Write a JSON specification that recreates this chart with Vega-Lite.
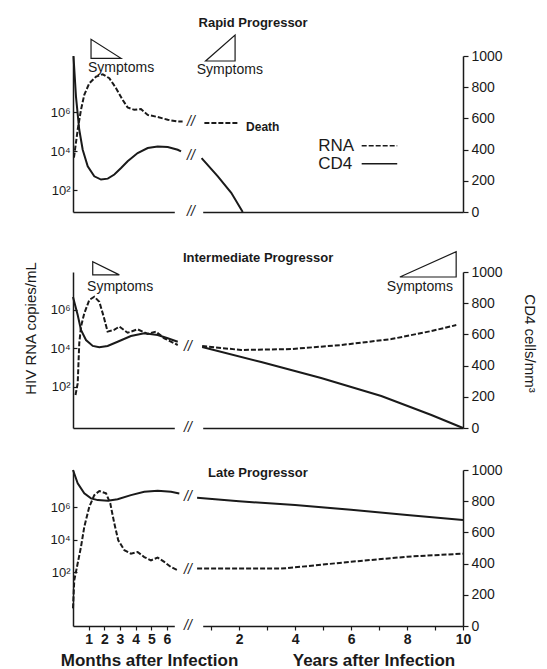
{
 "$schema": "https://vega.github.io/schema/vega-lite/v6.json",
 "padding": {"left": 22, "top": 17, "right": 5, "bottom": 2},
 "background": "white",
 "data": {"values": [{}]},
 "config": {
  "view": {"stroke": null},
  "font": "Liberation Sans",
  "axis": {"grid": false, "domainColor": "#1a1a1a", "domainWidth": 1.5, "tickColor": "#1a1a1a", "tickWidth": 1.2, "labelColor": "#1a1a1a", "titleColor": "#1a1a1a", "labelFont": "Liberation Sans", "titleFont": "Liberation Sans", "labelFlush": false, "labelOverlap": false, "titleFontWeight": "normal"},
  "text": {"font": "Liberation Sans", "color": "#1a1a1a"},
  "line": {"color": "#1a1a1a", "strokeWidth": 2}
 },
 "datasets": {
  "p1_rna_m": [{"month":0.06,"log10_rna":3.68},{"month":0.30,"log10_rna":5.11},{"month":0.51,"log10_rna":6.13},{"month":0.72,"log10_rna":6.90},{"month":1.04,"log10_rna":7.49},{"month":1.47,"log10_rna":7.83},{"month":1.90,"log10_rna":7.95},{"month":2.32,"log10_rna":7.75},{"month":2.75,"log10_rna":7.24},{"month":3.17,"log10_rna":6.64},{"month":3.49,"log10_rna":6.25},{"month":3.91,"log10_rna":6.13},{"month":4.34,"log10_rna":6.17},{"month":4.77,"log10_rna":5.87},{"month":5.41,"log10_rna":5.76},{"month":6.05,"log10_rna":5.62},{"month":6.69,"log10_rna":5.53},{"month":7.0,"log10_rna":5.53}],
  "p1_rna_y": [{"year":0.76,"log10_rna":5.45},{"year":1.98,"log10_rna":5.45}],
  "p1_cd4_m": [{"month":0.03,"cd4":1000},{"month":0.19,"cd4":740},{"month":0.40,"cd4":527},{"month":0.62,"cd4":399},{"month":0.94,"cd4":293},{"month":1.36,"cd4":229},{"month":1.79,"cd4":208},{"month":2.22,"cd4":214},{"month":2.64,"cd4":240},{"month":3.07,"cd4":282},{"month":3.49,"cd4":325},{"month":4.13,"cd4":378},{"month":4.77,"cd4":410},{"month":5.41,"cd4":420},{"month":6.05,"cd4":417},{"month":6.69,"cd4":399},{"month":6.90,"cd4":388}],
  "p1_cd4_y": [{"year":0.66,"cd4":345},{"year":1.24,"cd4":229},{"year":1.72,"cd4":123},{"year":2.13,"cd4":0}],
  "p2_rna_m": [{"month":0.16,"log10_rna":1.56},{"month":0.30,"log10_rna":2.17},{"month":0.40,"log10_rna":4.26},{"month":0.51,"log10_rna":5.13},{"month":0.72,"log10_rna":5.82},{"month":1.04,"log10_rna":6.52},{"month":1.36,"log10_rna":6.69},{"month":1.68,"log10_rna":6.43},{"month":1.96,"log10_rna":5.65},{"month":2.21,"log10_rna":4.87},{"month":2.60,"log10_rna":4.95},{"month":2.96,"log10_rna":5.13},{"month":3.49,"log10_rna":4.81},{"month":4.13,"log10_rna":4.99},{"month":4.77,"log10_rna":4.75},{"month":5.30,"log10_rna":4.87},{"month":5.83,"log10_rna":4.52},{"month":6.69,"log10_rna":4.17}],
  "p2_rna_y": [{"year":0.68,"log10_rna":4.12},{"year":2.07,"log10_rna":3.91},{"year":3.86,"log10_rna":3.96},{"year":5.65,"log10_rna":4.17},{"year":7.44,"log10_rna":4.48},{"year":8.87,"log10_rna":4.90},{"year":9.76,"log10_rna":5.21}],
  "p2_cd4_m": [{"month":0.0,"cd4":840},{"month":0.30,"cd4":724},{"month":0.51,"cd4":628},{"month":0.83,"cd4":564},{"month":1.26,"cd4":526},{"month":1.68,"cd4":517},{"month":2.21,"cd4":526},{"month":2.85,"cd4":553},{"month":3.70,"cd4":590},{"month":4.55,"cd4":607},{"month":5.41,"cd4":596},{"month":6.05,"cd4":575},{"month":6.69,"cd4":553}],
  "p2_cd4_y": [{"year":0.68,"cd4":519},{"year":2.79,"cd4":423},{"year":4.93,"cd4":321},{"year":7.08,"cd4":205},{"year":8.87,"cd4":83},{"year":10,"cd4":0}],
  "p3_rna_m": [{"month":0.0,"log10_rna":-0.21},{"month":0.08,"log10_rna":1.51},{"month":0.51,"log10_rna":3.56},{"month":0.72,"log10_rna":4.79},{"month":1.04,"log10_rna":6.02},{"month":1.36,"log10_rna":6.74},{"month":1.68,"log10_rna":6.99},{"month":2.11,"log10_rna":6.85},{"month":2.38,"log10_rna":6.23},{"month":2.64,"log10_rna":5.00},{"month":2.89,"log10_rna":3.97},{"month":3.28,"log10_rna":3.36},{"month":3.70,"log10_rna":3.15},{"month":4.13,"log10_rna":3.25},{"month":4.55,"log10_rna":2.94},{"month":4.98,"log10_rna":2.74},{"month":5.41,"log10_rna":2.91},{"month":5.83,"log10_rna":2.64},{"month":6.26,"log10_rna":2.33},{"month":6.69,"log10_rna":2.13}],
  "p3_rna_y": [{"year":0.5,"log10_rna":2.23},{"year":3.5,"log10_rna":2.23},{"year":4.0,"log10_rna":2.31},{"year":6.0,"log10_rna":2.65},{"year":8.0,"log10_rna":2.96},{"year":10.0,"log10_rna":3.15}],
  "p3_cd4_m": [{"month":0.0,"cd4":1000},{"month":0.30,"cd4":914},{"month":0.72,"cd4":850},{"month":1.15,"cd4":818},{"month":1.58,"cd4":807},{"month":2.22,"cd4":803},{"month":2.85,"cd4":812},{"month":3.70,"cd4":839},{"month":4.55,"cd4":860},{"month":5.41,"cd4":867},{"month":6.26,"cd4":860},{"month":6.79,"cd4":850}],
  "p3_cd4_y": [{"year":0.5,"cd4":822},{"year":2,"cd4":800},{"year":4,"cd4":775},{"year":6,"cd4":745},{"year":8,"cd4":712},{"year":10,"cd4":680}],
  "breaks": [{"panel":"rapid","month":7.53,"cd4":580},{"panel":"rapid","month":7.53,"cd4":357},{"panel":"rapid","month":7.53,"cd4":0},{"panel":"intermediate","month":7.34,"cd4":521},{"panel":"intermediate","month":7.34,"cd4":0},{"panel":"late","month":7.34,"cd4":828},{"panel":"late","month":7.34,"cd4":357},{"panel":"late","month":7.34,"cd4":0}]
 },
 "bounds": "flush",
 "spacing": 42,
 "vconcat": [
  {
   "width": 390, "height": 156,
   "layer": [
    {"data":{"name":"p1_rna_m"},"mark":{"type":"line","strokeDash":[5,2]},"encoding":{"x":{"field":"month","type":"quantitative","scale":{"domain":[0,6.47],"range":[0,101.3],"nice":false,"zero":false},"axis":null},"y":{"field":"log10_rna","type":"quantitative","scale":{"domain":[0.89,8.89],"nice":false,"zero":false},"axis":{"orient":"left","values":[2,4,6],"labelExpr":"datum.value === 2 ? '10²' : datum.value === 4 ? '10⁴' : '10⁶'","tickSize":-4,"labelPadding":7,"labelFontSize":13,"title":null}}}},
    {"data":{"name":"p1_rna_y"},"mark":{"type":"line","strokeDash":[5,2]},"encoding":{"x":{"field":"year","type":"quantitative","scale":{"domain":[0.7,10],"range":[129.7,390],"nice":false,"zero":false},"axis":null},"y":{"field":"log10_rna","type":"quantitative","scale":{"domain":[0.89,8.89],"nice":false,"zero":false},"axis":null}}},
    {"data":{"name":"p1_cd4_m"},"mark":{"type":"line"},"encoding":{"x":{"field":"month","type":"quantitative","scale":{"domain":[0,6.47],"range":[0,101.3],"nice":false,"zero":false},"axis":{"orient":"bottom","labels":false,"ticks":false,"title":null}},"y":{"field":"cd4","type":"quantitative","scale":{"domain":[0,1000],"nice":false,"zero":false},"axis":null}}},
    {"data":{"name":"p1_cd4_y"},"mark":{"type":"line"},"encoding":{"x":{"field":"year","type":"quantitative","scale":{"domain":[0.7,10],"range":[129.7,390],"nice":false,"zero":false},"axis":{"orient":"bottom","labels":false,"ticks":false,"title":null}},"y":{"field":"cd4","type":"quantitative","scale":{"domain":[0,1000],"nice":false,"zero":false},"axis":{"orient":"right","values":[0,200,400,600,800,1000],"format":"d","tickSize":5,"labelPadding":3,"labelFontSize":14,"title":null}}}},
    {"data":{"name":"breaks"},"transform":[{"filter":"datum.panel === 'rapid'"}],"mark":{"type":"text","text":"//","fontSize":14,"fontStyle":"italic"},"encoding":{"x":{"field":"month","type":"quantitative","scale":{"domain":[0,6.47],"range":[0,101.3],"nice":false,"zero":false},"axis":null},"y":{"field":"cd4","type":"quantitative","scale":{"domain":[0,1000],"nice":false,"zero":false},"axis":null}}},
    {"mark":{"type":"text","text":"Rapid Progressor","fontSize":13,"fontWeight":"bold"},"encoding":{"x":{"datum":2.5,"type":"quantitative","scale":{"domain":[0.7,10],"range":[129.7,390],"nice":false,"zero":false},"axis":null},"y":{"datum":1209,"type":"quantitative","scale":{"domain":[0,1000],"nice":false,"zero":false},"axis":null}}},
    {"mark":{"type":"text","text":"Symptoms","fontSize":14},"encoding":{"x":{"datum":3.07,"type":"quantitative","scale":{"domain":[0,6.47],"range":[0,101.3],"nice":false,"zero":false},"axis":null},"y":{"datum":921,"type":"quantitative","scale":{"domain":[0,1000],"nice":false,"zero":false},"axis":null}}},
    {"mark":{"type":"text","text":"Symptoms","fontSize":14},"encoding":{"x":{"datum":1.67,"type":"quantitative","scale":{"domain":[0.7,10],"range":[129.7,390],"nice":false,"zero":false},"axis":null},"y":{"datum":911,"type":"quantitative","scale":{"domain":[0,1000],"nice":false,"zero":false},"axis":null}}},
    {"mark":{"type":"point","shape":"M -1 -0.633 L -1 0.633 L 1 0.633 Z","size":900,"filled":false,"stroke":"#1a1a1a","strokeWidth":1.2,"opacity":1},"encoding":{"x":{"datum":2.11,"type":"quantitative","scale":{"domain":[0,6.47],"range":[0,101.3],"nice":false,"zero":false},"axis":null},"y":{"datum":1046,"type":"quantitative","scale":{"domain":[0,1000],"nice":false,"zero":false},"axis":null}}},
    {"mark":{"type":"point","shape":"M -1 0.88 L 1 0.88 L 1 -0.88 Z","size":870,"filled":false,"stroke":"#1a1a1a","strokeWidth":1.2,"opacity":1},"encoding":{"x":{"datum":1.33,"type":"quantitative","scale":{"domain":[0.7,10],"range":[129.7,390],"nice":false,"zero":false},"axis":null},"y":{"datum":1051,"type":"quantitative","scale":{"domain":[0,1000],"nice":false,"zero":false},"axis":null}}},
    {"mark":{"type":"text","text":"Death","fontSize":12,"fontWeight":"bold","align":"left"},"encoding":{"x":{"datum":2.25,"type":"quantitative","scale":{"domain":[0.7,10],"range":[129.7,390],"nice":false,"zero":false},"axis":null},"y":{"datum":548,"type":"quantitative","scale":{"domain":[0,1000],"nice":false,"zero":false},"axis":null}}},
    {"mark":{"type":"text","text":"RNA","fontSize":17,"align":"left"},"encoding":{"x":{"datum":4.83,"type":"quantitative","scale":{"domain":[0.7,10],"range":[129.7,390],"nice":false,"zero":false},"axis":null},"y":{"datum":425,"type":"quantitative","scale":{"domain":[0,1000],"nice":false,"zero":false},"axis":null}}},
    {"mark":{"type":"text","text":"CD4","fontSize":17,"align":"left"},"encoding":{"x":{"datum":4.83,"type":"quantitative","scale":{"domain":[0.7,10],"range":[129.7,390],"nice":false,"zero":false},"axis":null},"y":{"datum":310,"type":"quantitative","scale":{"domain":[0,1000],"nice":false,"zero":false},"axis":null}}},
    {"mark":{"type":"rule","strokeDash":[5,2],"strokeWidth":1.5,"color":"#1a1a1a"},"encoding":{"x":{"datum":6.38,"type":"quantitative","scale":{"domain":[0.7,10],"range":[129.7,390],"nice":false,"zero":false},"axis":null},"x2":{"datum":7.65},"y":{"datum":425,"type":"quantitative","scale":{"domain":[0,1000],"nice":false,"zero":false},"axis":null}}},
    {"mark":{"type":"rule","strokeWidth":1.5,"color":"#1a1a1a"},"encoding":{"x":{"datum":6.38,"type":"quantitative","scale":{"domain":[0.7,10],"range":[129.7,390],"nice":false,"zero":false},"axis":null},"x2":{"datum":7.65},"y":{"datum":310,"type":"quantitative","scale":{"domain":[0,1000],"nice":false,"zero":false},"axis":null}}}
   ],
   "resolve": {"scale": {"x": "independent", "y": "independent"}, "axis": {"x": "independent", "y": "independent"}}
  },
  {
   "width": 390, "height": 174,
   "layer": [
    {"data":{"name":"p2_rna_m"},"mark":{"type":"line","strokeDash":[5,2]},"encoding":{"x":{"field":"month","type":"quantitative","scale":{"domain":[0,6.47],"range":[0,101.3],"nice":false,"zero":false},"axis":null},"y":{"field":"log10_rna","type":"quantitative","scale":{"domain":[-0.16,7.98],"range":[174,18],"nice":false,"zero":false},"axis":{"orient":"left","values":[2,4,6],"labelExpr":"datum.value === 2 ? '10²' : datum.value === 4 ? '10⁴' : '10⁶'","tickSize":-4,"labelPadding":7,"labelFontSize":13,"title":"HIV RNA copies/mL","titleFontSize":15,"titleAngle":-90,"titleX":-38,"titleY":74,"titleAlign":"center","titleBaseline":"alphabetic"}}}},
    {"data":{"name":"p2_rna_y"},"mark":{"type":"line","strokeDash":[5,2]},"encoding":{"x":{"field":"year","type":"quantitative","scale":{"domain":[0.7,10],"range":[129.7,390],"nice":false,"zero":false},"axis":null},"y":{"field":"log10_rna","type":"quantitative","scale":{"domain":[-0.16,7.98],"range":[174,18],"nice":false,"zero":false},"axis":null}}},
    {"data":{"name":"p2_cd4_m"},"mark":{"type":"line"},"encoding":{"x":{"field":"month","type":"quantitative","scale":{"domain":[0,6.47],"range":[0,101.3],"nice":false,"zero":false},"axis":{"orient":"bottom","labels":false,"ticks":false,"title":null}},"y":{"field":"cd4","type":"quantitative","scale":{"domain":[0,1000],"range":[174,18],"nice":false,"zero":false},"axis":null}}},
    {"data":{"name":"p2_cd4_y"},"mark":{"type":"line"},"encoding":{"x":{"field":"year","type":"quantitative","scale":{"domain":[0.7,10],"range":[129.7,390],"nice":false,"zero":false},"axis":{"orient":"bottom","labels":false,"ticks":false,"title":null}},"y":{"field":"cd4","type":"quantitative","scale":{"domain":[0,1000],"range":[174,18],"nice":false,"zero":false},"axis":{"orient":"right","values":[0,200,400,600,800,1000],"format":"d","tickSize":5,"labelPadding":3,"labelFontSize":14,"title":"CD4 cells/mm³","titleFontSize":15,"titleAngle":90,"titleX":61,"titleY":89,"titleAlign":"center","titleBaseline":"alphabetic"}}}},
    {"data":{"name":"breaks"},"transform":[{"filter":"datum.panel === 'intermediate'"}],"mark":{"type":"text","text":"//","fontSize":14,"fontStyle":"italic"},"encoding":{"x":{"field":"month","type":"quantitative","scale":{"domain":[0,6.47],"range":[0,101.3],"nice":false,"zero":false},"axis":null},"y":{"field":"cd4","type":"quantitative","scale":{"domain":[0,1000],"range":[174,18],"nice":false,"zero":false},"axis":null}}},
    {"mark":{"type":"text","text":"Intermediate Progressor","fontSize":13,"fontWeight":"bold"},"encoding":{"x":{"datum":2.68,"type":"quantitative","scale":{"domain":[0.7,10],"range":[129.7,390],"nice":false,"zero":false},"axis":null},"y":{"datum":1088,"type":"quantitative","scale":{"domain":[0,1000],"range":[174,18],"nice":false,"zero":false},"axis":null}}},
    {"mark":{"type":"text","text":"Symptoms","fontSize":14},"encoding":{"x":{"datum":3.01,"type":"quantitative","scale":{"domain":[0,6.47],"range":[0,101.3],"nice":false,"zero":false},"axis":null},"y":{"datum":906,"type":"quantitative","scale":{"domain":[0,1000],"range":[174,18],"nice":false,"zero":false},"axis":null}}},
    {"mark":{"type":"text","text":"Symptoms","fontSize":14},"encoding":{"x":{"datum":8.46,"type":"quantitative","scale":{"domain":[0.7,10],"range":[129.7,390],"nice":false,"zero":false},"axis":null},"y":{"datum":906,"type":"quantitative","scale":{"domain":[0,1000],"range":[174,18],"nice":false,"zero":false},"axis":null}}},
    {"mark":{"type":"point","shape":"M -1 -0.5 L -1 0.5 L 1 0.5 Z","size":708,"filled":false,"stroke":"#1a1a1a","strokeWidth":1.2,"opacity":1},"encoding":{"x":{"datum":2.11,"type":"quantitative","scale":{"domain":[0,6.47],"range":[0,101.3],"nice":false,"zero":false},"axis":null},"y":{"datum":1024,"type":"quantitative","scale":{"domain":[0,1000],"range":[174,18],"nice":false,"zero":false},"axis":null}}},
    {"mark":{"type":"point","shape":"M -1 0.45 L 1 0.45 L 1 -0.45 Z","size":3170,"filled":false,"stroke":"#1a1a1a","strokeWidth":1.2,"opacity":1},"encoding":{"x":{"datum":8.75,"type":"quantitative","scale":{"domain":[0.7,10],"range":[129.7,390],"nice":false,"zero":false},"axis":null},"y":{"datum":1049,"type":"quantitative","scale":{"domain":[0,1000],"range":[174,18],"nice":false,"zero":false},"axis":null}}}
   ],
   "resolve": {"scale": {"x": "independent", "y": "independent"}, "axis": {"x": "independent", "y": "independent"}}
  },
  {
   "width": 390, "height": 156,
   "layer": [
    {"data":{"name":"p3_rna_m"},"mark":{"type":"line","strokeDash":[5,2]},"encoding":{"x":{"field":"month","type":"quantitative","scale":{"domain":[0,6.47],"range":[0,101.3],"nice":false,"zero":false},"axis":null},"y":{"field":"log10_rna","type":"quantitative","scale":{"domain":[-1.29,8.28],"nice":false,"zero":false},"axis":{"orient":"left","values":[2,4,6],"labelExpr":"datum.value === 2 ? '10²' : datum.value === 4 ? '10⁴' : '10⁶'","tickSize":-4,"labelPadding":7,"labelFontSize":13,"title":null}}}},
    {"data":{"name":"p3_rna_y"},"mark":{"type":"line","strokeDash":[5,2]},"encoding":{"x":{"field":"year","type":"quantitative","scale":{"domain":[0.7,10],"range":[129.7,390],"nice":false,"zero":false},"axis":null},"y":{"field":"log10_rna","type":"quantitative","scale":{"domain":[-1.29,8.28],"nice":false,"zero":false},"axis":null}}},
    {"data":{"name":"p3_cd4_m"},"mark":{"type":"line"},"encoding":{"x":{"field":"month","type":"quantitative","scale":{"domain":[0,6.47],"range":[0,101.3],"nice":false,"zero":false},"axis":{"orient":"bottom","values":[1,2,3,4,5,6],"format":"d","tickSize":4,"labelPadding":2,"labelFontSize":14,"labelFontWeight":"bold","title":"Months after Infection","titleFontSize":17,"titleFontWeight":"bold","titleX":76,"titleY":34,"titleAlign":"center","titleBaseline":"middle"}},"y":{"field":"cd4","type":"quantitative","scale":{"domain":[0,1000],"nice":false,"zero":false},"axis":null}}},
    {"data":{"name":"p3_cd4_y"},"mark":{"type":"line"},"encoding":{"x":{"field":"year","type":"quantitative","scale":{"domain":[0.7,10],"range":[129.7,390],"nice":false,"zero":false},"axis":{"orient":"bottom","values":[1,2,3,4,5,6,7,8,9,10],"format":"d","labelExpr":"datum.value % 2 === 0 ? datum.label : ''","tickSize":4,"labelPadding":2,"labelFontSize":14,"labelFontWeight":"bold","title":"Years after Infection","titleFontSize":17,"titleFontWeight":"bold","titleX":300.5,"titleY":34,"titleAlign":"center","titleBaseline":"middle"}},"y":{"field":"cd4","type":"quantitative","scale":{"domain":[0,1000],"nice":false,"zero":false},"axis":{"orient":"right","values":[0,200,400,600,800,1000],"format":"d","tickSize":5,"labelPadding":3,"labelFontSize":14,"title":null}}}},
    {"data":{"name":"breaks"},"transform":[{"filter":"datum.panel === 'late'"}],"mark":{"type":"text","text":"//","fontSize":14,"fontStyle":"italic"},"encoding":{"x":{"field":"month","type":"quantitative","scale":{"domain":[0,6.47],"range":[0,101.3],"nice":false,"zero":false},"axis":null},"y":{"field":"cd4","type":"quantitative","scale":{"domain":[0,1000],"nice":false,"zero":false},"axis":null}}},
    {"mark":{"type":"text","text":"Late Progressor","fontSize":13,"fontWeight":"bold"},"encoding":{"x":{"datum":2.67,"type":"quantitative","scale":{"domain":[0.7,10],"range":[129.7,390],"nice":false,"zero":false},"axis":null},"y":{"datum":983,"type":"quantitative","scale":{"domain":[0,1000],"nice":false,"zero":false},"axis":null}}}
   ],
   "resolve": {"scale": {"x": "independent", "y": "independent"}, "axis": {"x": "independent", "y": "independent"}}
  }
 ]
}
